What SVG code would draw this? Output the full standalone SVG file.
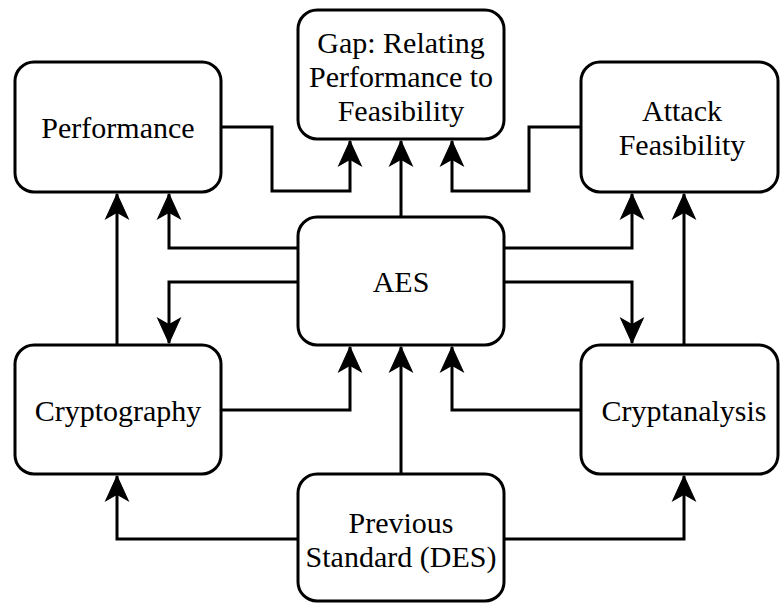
<svg xmlns="http://www.w3.org/2000/svg" width="780" height="603" viewBox="0 0 780 603">
<style>
.box{fill:#fff;stroke:#000;stroke-width:3}
.edge{fill:none;stroke:#000;stroke-width:3;marker-end:url(#arr)}
</style>
<defs>
<marker id="arr" markerUnits="userSpaceOnUse" markerWidth="30" markerHeight="30" viewBox="-26 -13 28 26" refX="0" refY="0" orient="auto">
<path d="M0,0 L-23,-10.5 L-17,0 L-23,10.5 Z" fill="#000" stroke="#000" stroke-width="1"/>
</marker>
</defs>
<rect width="780" height="603" fill="#fff"/>
<g id="connectors">
<path class="edge" d="M221,127 H272 V191 H350 V141"/>
<path class="edge" d="M581,127 H529 V191 H452 V141"/>
<path class="edge" d="M401,217 V141"/>
<path class="edge" d="M298,248 H169 V194"/>
<path class="edge" d="M298,282 H169 V343"/>
<path class="edge" d="M117,345 V194"/>
<path class="edge" d="M504,248 H632 V194"/>
<path class="edge" d="M504,282 H632 V343"/>
<path class="edge" d="M684,345 V194"/>
<path class="edge" d="M221,410 H350 V347"/>
<path class="edge" d="M581,410 H452 V347"/>
<path class="edge" d="M401,474 V347"/>
<path class="edge" d="M298,539 H117 V476"/>
<path class="edge" d="M504,539 H684 V476"/>
</g>
<g font-family="Liberation Serif" font-size="30" text-anchor="middle" fill="#000">
<g id="performance">
<rect class="box" x="15" y="62" width="206" height="130" rx="19"/>
<text x="118" y="138">Performance</text>
</g>
<g id="gap">
<rect class="box" x="298" y="10" width="206" height="129" rx="19"/>
<text x="401" y="53">Gap: Relating</text>
<text x="401" y="87">Performance to</text>
<text x="401" y="121">Feasibility</text>
</g>
<g id="attack">
<rect class="box" x="581" y="62" width="197" height="130" rx="19"/>
<text x="682" y="121">Attack</text>
<text x="682" y="155">Feasibility</text>
</g>
<g id="aes">
<rect class="box" x="298" y="217" width="206" height="128" rx="19"/>
<text x="401" y="292">AES</text>
</g>
<g id="cryptography">
<rect class="box" x="15" y="345" width="206" height="129" rx="19"/>
<text x="118" y="421">Cryptography</text>
</g>
<g id="cryptanalysis">
<rect class="box" x="581" y="345" width="197" height="129" rx="19"/>
<text x="684" y="421">Cryptanalysis</text>
</g>
<g id="previous">
<rect class="box" x="298" y="474" width="206" height="127" rx="19"/>
<text x="401" y="533">Previous</text>
<text x="401" y="567">Standard (DES)</text>
</g>
</g>
</svg>
